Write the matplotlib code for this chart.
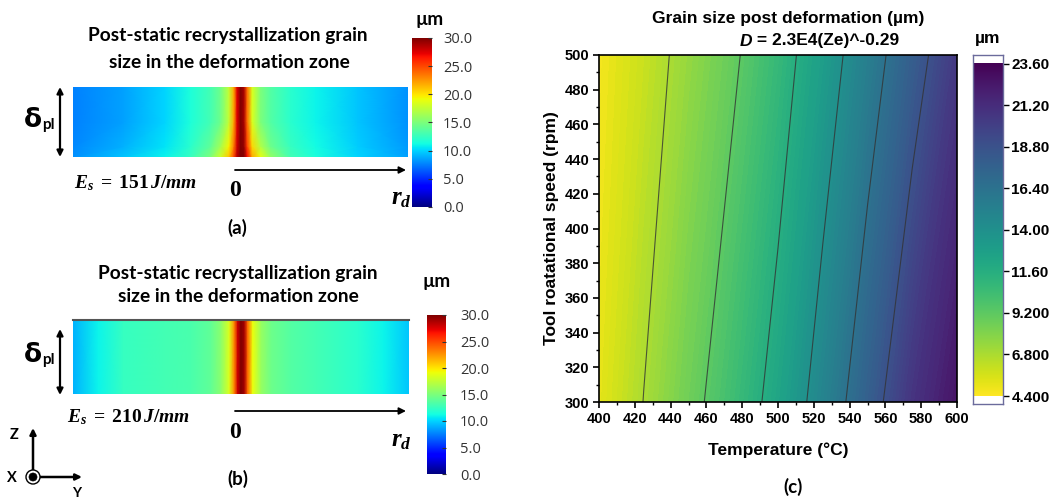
import numpy as np
import matplotlib
matplotlib.use("Agg")
import matplotlib.pyplot as plt
from matplotlib.patches import FancyArrowPatch, Circle
from matplotlib.transforms import IdentityTransform
from matplotlib.ticker import MultipleLocator

# ---------------- data ----------------
# panel (a): grain size (um) across the deformation zone, E_s = 151 J/mm
r_pos_a = [-1.0, -0.7, -0.45, -0.3, -0.18, -0.12, -0.07, -0.04, -0.02, 0.0,
           0.02, 0.04, 0.07, 0.12, 0.18, 0.3, 0.45, 0.7, 1.0]
z_pos_a = [0.0, 0.15, 0.5, 1.0]
size_a = [
    [8.0, 9.5, 11.0, 12.5, 15.0, 18.0, 21.0, 25.0, 28.5, 30.0, 30.0, 27.0, 22.0, 19.0, 16.0, 13.0, 11.5, 10.0, 8.5],
    [7.8, 9.0, 10.5, 12.0, 14.0, 16.5, 19.5, 23.5, 28.0, 30.0, 29.5, 25.5, 20.5, 17.0, 14.5, 12.5, 11.2, 9.8, 8.3],
    [7.5, 8.5, 10.0, 11.5, 13.0, 14.5, 17.5, 22.0, 27.5, 30.0, 29.0, 24.0, 18.5, 15.0, 13.5, 12.0, 11.0, 9.5, 8.0],
    [7.5, 8.5, 10.0, 11.5, 13.0, 14.5, 17.5, 22.0, 27.5, 30.0, 29.0, 24.0, 18.5, 15.0, 13.5, 12.0, 11.0, 9.5, 8.0],
]

# panel (b): grain size (um) across the deformation zone, E_s = 210 J/mm
r_pos_b = [-1.0, -0.85, -0.7, -0.45, -0.3, -0.18, -0.12, -0.07, -0.04, -0.02, 0.0,
           0.02, 0.04, 0.07, 0.12, 0.18, 0.3, 0.45, 0.7, 0.85, 1.0]
size_b = [9.0, 11.0, 12.5, 13.0, 13.2, 14.0, 15.5, 18.5, 23.0, 28.0, 30.0,
          29.0, 24.0, 19.0, 16.0, 14.5, 13.5, 13.0, 12.0, 11.0, 9.5]

ticks_ab = [0, 5, 10, 15, 20, 25, 30]
ticklabels_ab = ["0.0", "5.0", "10.0", "15.0", "20.0", "25.0", "30.0"]

# panel (c): grain size post deformation vs temperature and rotational speed
temp_c = [400, 425, 450, 475, 500, 525, 550, 575, 600]
rpm_c = [300, 500]
size_c = [
    [5.1, 6.83, 8.58, 10.34, 12.31, 14.94, 17.77, 20.7, 22.6],
    [4.7, 5.96, 7.43, 8.92, 10.71, 12.87, 15.35, 17.88, 20.4],
]
levels_c = [6.8, 9.2, 11.6, 14.0, 16.4, 18.8]
cbar_ticks_c = [4.4, 6.8, 9.2, 11.6, 14.0, 16.4, 18.8, 21.2, 23.6]
cbar_labels_c = ["4.400", "6.800", "9.200", "11.60", "14.00", "16.40", "18.80", "21.20", "23.60"]

# ---------------- style ----------------
plt.rcParams["font.family"] = ["Liberation Sans", "DejaVu Sans"]
plt.rcParams["font.weight"] = "bold"
plt.rcParams["mathtext.fontset"] = "custom"
plt.rcParams["mathtext.it"] = "Liberation Serif:italic:bold"
plt.rcParams["mathtext.rm"] = "Liberation Serif:bold"
plt.rcParams["mathtext.bf"] = "Liberation Serif:bold"

W, H = 1059, 500
fig = plt.figure(figsize=(W / 100, H / 100), dpi=100)


def box(x0, y0, x1, y1):
    return [x0 / W, 1 - y1 / H, (x1 - x0) / W, (y1 - y0) / H]


def ftext(x, y, s, **kw):
    return fig.text(x / W, 1 - y / H, s, **kw)


def farrow(x0, y0, x1, y1, style="-|>", lw=1.4, ms=10):
    a = FancyArrowPatch((x0 / W, 1 - y0 / H), (x1 / W, 1 - y1 / H),
                        transform=fig.transFigure, arrowstyle=style,
                        mutation_scale=ms, lw=lw, color="black",
                        shrinkA=0, shrinkB=0)
    fig.add_artist(a)


TITLE_FONT = ["Lato", "DejaVu Sans"]
TSIZE = 13.8


def jet_colorbar(rect, label_x_pad):
    cax = fig.add_axes(rect)
    grad = np.linspace(0, 30, 256)[:, None]
    cax.imshow(grad, origin="lower", extent=[0, 1, 0, 30], aspect="auto",
               cmap="jet", vmin=0, vmax=30)
    cax.set_xticks([])
    cax.yaxis.tick_right()
    cax.set_yticks(ticks_ab)
    cax.set_yticklabels(ticklabels_ab, fontfamily=["Open Sans", "DejaVu Sans"],
                        fontweight="normal", fontsize=10.5, color="#333333")
    cax.tick_params(axis="y", direction="in", length=3, width=0.8,
                    color="#333333", pad=label_x_pad)
    for s in cax.spines.values():
        s.set_visible(False)
    return cax


def heat_panel(rect, r, z, vals, top_line=False):
    ax = fig.add_axes(rect)
    ax.pcolormesh(r, z, vals, cmap="jet", vmin=0, vmax=30, shading="gouraud")
    ax.set_xlim(-1, 1)
    ax.set_ylim(0, 1)
    ax.axis("off")
    if top_line:
        ax.plot([-1, 1], [1, 1], color="#555555", lw=1.5, clip_on=False)
    return ax


# ---------------- panel (a) ----------------
heat_panel(box(73, 87, 408, 157), r_pos_a, z_pos_a, np.array(size_a))
jet_colorbar(box(412, 38, 432, 207), 8)
ftext(228, 36, "Post-static recrystallization grain", ha="center", va="center",
      fontsize=TSIZE, fontfamily=TITLE_FONT)
ftext(229, 62, "size in the deformation zone", ha="center", va="center",
      fontsize=TSIZE, fontfamily=TITLE_FONT)
ftext(430, 19, "µm", ha="center", va="center", fontsize=13.5, fontfamily=TITLE_FONT)
ftext(42, 120, "δ", ha="right", va="center", fontsize=19, fontfamily=["DejaVu Sans"])
ftext(42, 125, "pl", ha="left", va="center", fontsize=11, fontfamily=TITLE_FONT)
farrow(60, 87, 60, 157, style="<|-|>", lw=1.6, ms=9)
ftext(74, 183, r"$E_s\;=\;151\,J/mm$", ha="left", va="center", fontsize=14)
ftext(235.5, 190, "0", ha="center", va="center", fontsize=17,
      fontfamily=["Liberation Serif"])
farrow(235, 170, 406, 170, lw=1.3, ms=10)
ftext(401, 198, r"$r_d$", ha="center", va="center", fontsize=18)
ftext(237, 228, "(a)", ha="center", va="center", fontsize=13.5, fontfamily=TITLE_FONT)

# ---------------- panel (b) ----------------
heat_panel(box(73, 320, 409, 394), r_pos_b, [0.0, 1.0],
           np.array([size_b, size_b]), top_line=True)
jet_colorbar(box(427, 315, 446, 474), 10)
ftext(238, 273, "Post-static recrystallization grain", ha="center", va="center",
      fontsize=TSIZE, fontfamily=TITLE_FONT)
ftext(238, 297, "size in the deformation zone", ha="center", va="center",
      fontsize=TSIZE, fontfamily=TITLE_FONT)
ftext(437, 281, "µm", ha="center", va="center", fontsize=13.5, fontfamily=TITLE_FONT)
ftext(42, 355, "δ", ha="right", va="center", fontsize=19, fontfamily=["DejaVu Sans"])
ftext(42, 360, "pl", ha="left", va="center", fontsize=11, fontfamily=TITLE_FONT)
farrow(60, 329, 60, 395, style="<|-|>", lw=1.6, ms=9)
ftext(67, 417, r"$E_s\;=\;210\,J/mm$", ha="left", va="center", fontsize=14)
ftext(235, 432, "0", ha="center", va="center", fontsize=17,
      fontfamily=["Liberation Serif"])
farrow(235, 411, 406, 411, lw=1.3, ms=10)
ftext(401, 440, r"$r_d$", ha="center", va="center", fontsize=18)
ftext(238, 479, "(b)", ha="center", va="center", fontsize=13.5, fontfamily=TITLE_FONT)

# coordinate triad
farrow(33, 477, 33, 428, lw=1.8, ms=9)
farrow(33, 477, 82, 477, lw=1.8, ms=9)
fig.add_artist(Circle((33, H - 477), 7, transform=IdentityTransform(),
                      facecolor="white", edgecolor="black", lw=1.0))
fig.add_artist(Circle((33, H - 477), 4, transform=IdentityTransform(),
                      facecolor="black", edgecolor="black", lw=0.5))
ftext(14, 435, "Z", ha="center", va="center", fontsize=10.5, fontfamily=TITLE_FONT)
ftext(12, 478, "X", ha="center", va="center", fontsize=10.5, fontfamily=TITLE_FONT)
ftext(77, 499, "Y", ha="center", va="bottom", fontsize=10, fontfamily=TITLE_FONT)

# ---------------- panel (c) ----------------
axc = fig.add_axes(box(599, 55, 957, 402))
T, R = np.meshgrid(temp_c, rpm_c)
D = np.array(size_c)
axc.contourf(T, R, D, levels=np.linspace(4.4, 23.6, 97), cmap="viridis_r",
             extend="both")
axc.contour(T, R, D, levels=levels_c, colors="#333333", linewidths=0.8, alpha=0.8)
axc.set_xlim(400, 600)
axc.set_ylim(300, 500)
axc.set_xticks(range(400, 601, 20))
axc.set_yticks(range(300, 501, 20))
axc.xaxis.set_minor_locator(MultipleLocator(10))
axc.yaxis.set_minor_locator(MultipleLocator(10))
axc.tick_params(which="major", direction="out", length=4, width=1.2, labelsize=10.5, pad=3)
axc.tick_params(which="minor", direction="out", length=2.5, width=1.0)
for lab in axc.get_xticklabels() + axc.get_yticklabels():
    lab.set_fontweight("bold")
for s in axc.spines.values():
    s.set_linewidth(1.2)
axc.set_xlabel("Temperature (°C)", fontsize=12.5, fontweight="bold", labelpad=12)
axc.set_ylabel("Tool roatational speed (rpm)", fontsize=12.5, fontweight="bold",
               labelpad=4)

ftext(788, 18, "Grain size post deformation (µm)", ha="center", va="center",
      fontsize=12.5)
ftext(752, 41, "D", ha="right", va="center", fontsize=12.5, fontstyle="italic")
ftext(752, 41, " = 2.3E4(Ze)^-0.29", ha="left", va="center", fontsize=12.5)
ftext(988, 39, "µm", ha="center", va="center", fontsize=12.5)
ftext(793, 487, "(c)", ha="center", va="center", fontsize=13.5, fontfamily=TITLE_FONT)

# colorbar (c)
cax = fig.add_axes(box(973, 55, 1003, 404))
grad = np.linspace(4.4, 23.6, 256)[:, None]
cax.imshow(grad, origin="lower", extent=[0, 1, 4.4, 23.6], aspect="auto",
           cmap="viridis_r", vmin=4.4, vmax=23.6)
cax.set_xlim(0, 1)
cax.set_ylim(3.94, 24.1)
cax.set_xticks([])
cax.yaxis.tick_right()
cax.set_yticks(cbar_ticks_c)
cax.set_yticklabels(cbar_labels_c, fontsize=11, fontweight="bold")
cax.tick_params(axis="y", direction="out", length=4, width=1.0, pad=2)
for s in cax.spines.values():
    s.set_edgecolor("#6b6b9c")
    s.set_linewidth(1.0)

fig.savefig("out.png", dpi=100)
